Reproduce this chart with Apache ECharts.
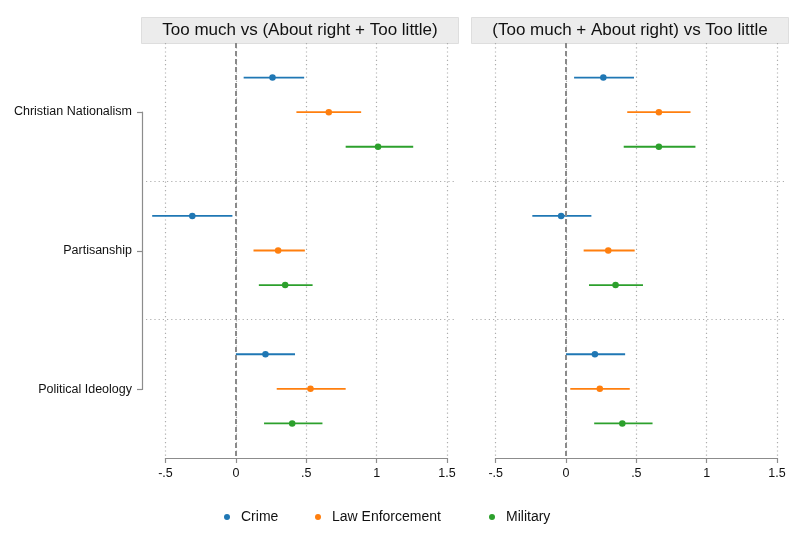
<!DOCTYPE html>
<html>
<head>
<meta charset="utf-8">
<script src="https://cdn.jsdelivr.net/npm/echarts@6/dist/echarts.min.js"></script>
<style>
    html, body { margin: 0; padding: 0; background: #fff; }
    #chart { width: 800px; height: 538px; }
</style>
</head>
<body>
<div id="chart"></div>
<script>
const groups = ['Christian Nationalism', 'Partisanship', 'Political Ideology'];
const outcomes = ['Crime', 'Law Enforcement', 'Military'];
const panelTitles = ['Too much vs (About right + Too little)', '(Too much + About right) vs Too little'];
const xTicks = [-0.5, 0, 0.5, 1, 1.5];
const colors = ['#1f77b4', '#ff7f0e', '#2ca02c'];

// panel 1: Too much vs (About right + Too little)
const crimeEst1 = [0.26, -0.31, 0.21];
const crimeLo1 = [0.055, -0.595, 0.0];
const crimeHi1 = [0.485, -0.025, 0.42];
const lawEst1 = [0.66, 0.30, 0.53];
const lawLo1 = [0.43, 0.125, 0.29];
const lawHi1 = [0.89, 0.49, 0.78];
const milEst1 = [1.01, 0.35, 0.40];
const milLo1 = [0.78, 0.163, 0.20];
const milHi1 = [1.26, 0.545, 0.615];

// panel 2: (Too much + About right) vs Too little
const crimeEst2 = [0.265, -0.035, 0.205];
const crimeLo2 = [0.057, -0.24, 0.0];
const crimeHi2 = [0.483, 0.18, 0.42];
const lawEst2 = [0.66, 0.30, 0.24];
const lawLo2 = [0.435, 0.125, 0.03];
const lawHi2 = [0.885, 0.488, 0.453];
const milEst2 = [0.66, 0.352, 0.40];
const milLo2 = [0.41, 0.163, 0.20];
const milHi2 = [0.92, 0.547, 0.615];

const panels = [
    [[crimeEst1, crimeLo1, crimeHi1], [lawEst1, lawLo1, lawHi1], [milEst1, milLo1, milHi1]],
    [[crimeEst2, crimeLo2, crimeHi2], [lawEst2, lawLo2, lawHi2], [milEst2, milLo2, milHi2]]
];

const font = 'Liberation Sans, Arial, Helvetica, sans-serif';
const axisGray = '#8c8c8c';
const gridGray = '#adadad';

// row position on the y scale: each group takes 4 slots, outcomes at 1..3
function rowPos(g, k) {
    return g * 4 + k + 1;
}

const chart = echarts.init(document.getElementById('chart'));

const layout = [
    {data: {left: 146, width: 309, min: -0.639, max: 1.557}, axis: {left: 165.5, width: 281.5}, box: [141, 317]},
    {data: {left: 472, width: 313, min: -0.669, max: 1.557}, axis: {left: 495.7, width: 281.3}, box: [471, 317]}
];

let grids = [], xAxes = [], yAxes = [], series = [], graphics = [];

layout.forEach(function (p, pi) {
    let dataIdx = grids.length;
    grids.push({left: p.data.left, top: 43, width: p.data.width, height: 415});
    xAxes.push({
        gridIndex: dataIdx, type: 'value', min: p.data.min, max: p.data.max,
        axisLine: {show: false}, axisTick: {show: false}, axisLabel: {show: false}, splitLine: {show: false}
    });
    yAxes.push({
        gridIndex: dataIdx, type: 'value', min: 0, max: 12, interval: 4, inverse: true,
        axisLine: {show: false}, axisTick: {show: false}, axisLabel: {show: false},
        splitLine: {show: true, showMinLine: false, showMaxLine: false, lineStyle: {color: gridGray, type: [1.2, 3], width: 1.2}}
    });

    let axisIdx = grids.length;
    grids.push({left: p.axis.left, top: 43, width: p.axis.width, height: 415});
    xAxes.push({
        gridIndex: axisIdx, type: 'value', min: xTicks[0], max: xTicks[xTicks.length - 1], interval: 0.5,
        axisLine: {show: true, lineStyle: {color: axisGray, width: 1.2}},
        axisTick: {show: true, length: 5, lineStyle: {color: axisGray, width: 1.2}},
        axisLabel: {
            color: '#111', fontSize: 12.5, fontFamily: font, margin: 9,
            formatter: function (v) {
                let s = String(Math.round(v * 10) / 10);
                return s.replace(/^(-?)0\./, '$1.');
            }
        },
        splitLine: {show: true, lineStyle: {color: gridGray, type: [1.2, 3], width: 1.2}}
    });
    yAxes.push({gridIndex: axisIdx, type: 'value', min: 0, max: 12, show: false});

    panels[pi].forEach(function (vals, k) {
        let est = vals[0], lo = vals[1], hi = vals[2];
        let ciData = groups.map(function (g, gi) { return [lo[gi], hi[gi], rowPos(gi, k)]; });
        let ptData = groups.map(function (g, gi) { return [est[gi], rowPos(gi, k)]; });
        let ci = {
            name: outcomes[k], type: 'custom', xAxisIndex: dataIdx, yAxisIndex: dataIdx,
            encode: {x: [0, 1], y: 2},
            itemStyle: {color: colors[k]},
            renderItem: function (params, api) {
                let a = api.coord([api.value(0), api.value(2)]);
                let b = api.coord([api.value(1), api.value(2)]);
                return {
                    type: 'line',
                    shape: {x1: a[0], y1: a[1], x2: b[0], y2: b[1]},
                    style: {stroke: colors[k], lineWidth: 1.8}
                };
            },
            data: ciData,
            z: 3
        };
        if (k === 0) {
            ci.markLine = {
                silent: true, symbol: 'none', label: {show: false},
                lineStyle: {color: '#8a8a8a', type: [5, 3], width: 2},
                data: [{xAxis: 0}]
            };
        }
        series.push(ci);
        series.push({
            name: outcomes[k], type: 'scatter', xAxisIndex: dataIdx, yAxisIndex: dataIdx,
            symbol: 'circle', symbolSize: 6.5,
            itemStyle: {color: colors[k], opacity: 1},
            data: ptData,
            z: 4
        });
    });

    graphics.push({
        type: 'group',
        left: p.box[0], top: 17,
        children: [
            {type: 'rect', shape: {x: 0, y: 0, width: p.box[1], height: 26},
                style: {fill: '#ececec', stroke: '#dedede', lineWidth: 1}},
            {type: 'text', x: p.box[1] / 2, y: 13,
                style: {text: panelTitles[pi], fill: '#111', font: '17px ' + font, align: 'center', verticalAlign: 'middle'}}
        ]
    });
});

// y label axis spanning group centres only
let labIdx = grids.length;
grids.push({left: 142, top: 112, width: 10, height: 277.5});
xAxes.push({gridIndex: labIdx, type: 'value', show: false});
yAxes.push({
    gridIndex: labIdx, type: 'category', data: groups, boundaryGap: false, inverse: true,
    axisLine: {show: true, lineStyle: {color: axisGray, width: 1.2}},
    axisTick: {show: true, length: 5, lineStyle: {color: axisGray, width: 1.2}},
    axisLabel: {color: '#111', fontSize: 12.5, fontFamily: font, margin: 10}
});

const legendLefts = [219, 310, 484];
const legends = outcomes.map(function (o, k) {
    return {
        data: [o], left: legendLefts[k], top: 505, icon: 'circle',
        itemWidth: 6, itemHeight: 6,
        textStyle: {color: '#111', fontSize: 14, fontFamily: font, padding: [0, 0, 0, 6]},
        selectedMode: false
    };
});

chart.setOption({
    backgroundColor: '#fff',
    animation: false,
    textStyle: {fontFamily: font},
    grid: grids,
    xAxis: xAxes,
    yAxis: yAxes,
    legend: legends,
    graphic: graphics,
    series: series
});
</script>
</body>
</html>
